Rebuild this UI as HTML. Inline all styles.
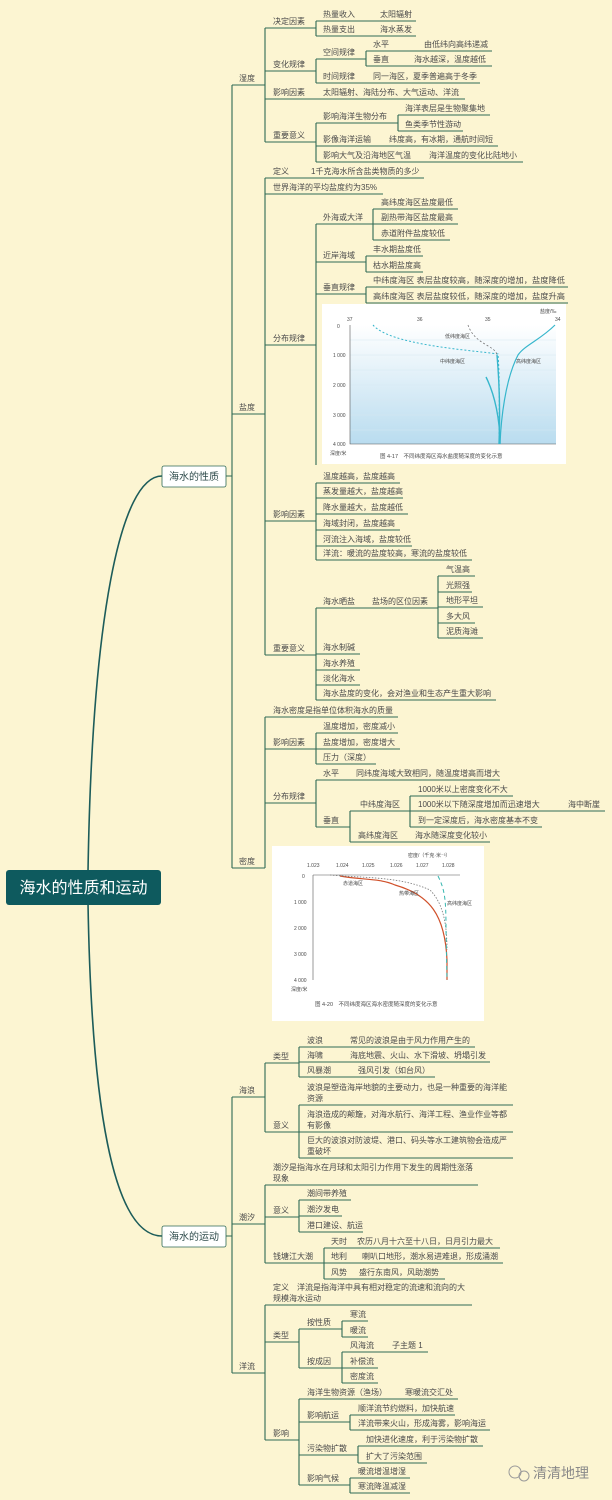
<!DOCTYPE html>
<html><head><meta charset="utf-8"><style>
html,body{margin:0;padding:0;background:#fcf5d2;}
svg{display:block;}
text{font-family:"Liberation Sans","Noto Sans CJK SC",sans-serif;font-size:8px;fill:#4a4a4a;}
</style></head><body>
<svg width="612" height="1500" viewBox="0 0 612 1500" xmlns="http://www.w3.org/2000/svg">
<rect width="612" height="1500" fill="#fcf5d2"/>
<defs><linearGradient id="g1" x1="0" y1="0" x2="0" y2="1"><stop offset="0" stop-color="#ffffff"/><stop offset="1" stop-color="#b9dcef"/></linearGradient></defs>

<path d="M88 872 C92 620 120 476 162 476" fill="none" stroke="#1c5c5a" stroke-width="1.6"/>
<path d="M88 903 C92 1140 120 1236 162 1236" fill="none" stroke="#1c5c5a" stroke-width="1.6"/>

<g fill="none" stroke="#2f6a55" stroke-width="1.1">
<path d="M226 476H232 M232 85V868 M226 1236H232 M232 1097V1373"/>
<path d="M232 85H265 M265 28V142 M265 28H316 M316 21V36 M316 21H416 M316 36H416
M265 71H316 M316 59V83 M316 59H366 M366 51V66 M366 51H492 M366 66H492 M316 83H480
M265 99H465 M265 142H316 M316 123V162 M316 123H398 M398 115V131 M398 115H490 M398 131H463 M316 146H498 M316 162H523"/>
<path d="M232 414H265 M265 178V655 M265 178H424 M265 194H383 M265 345H316 M316 224V465
M316 224H373 M373 209V240 M373 209H458 M373 224H458 M373 240H450
M316 262H366 M366 256V272 M366 256H423 M366 272H423
M316 294H366 M366 287V303 M366 287H568 M366 303H568
M265 521H316 M316 483V560 M316 483H400 M316 498H403 M316 514H408 M316 530H400 M316 546H412 M316 560H472
M265 655H316 M316 608V700 M316 608H438 M438 576V638 M438 576H475 M438 592H472 M438 607H483 M438 623H475 M438 638H483
M316 654H360 M316 670H360 M316 685H360 M316 700H496"/>
<path d="M232 868H265 M265 717V868 M265 717H398 M265 749H316 M316 733V764 M316 733H398 M316 749H400 M316 764H376
M265 803H316 M316 780V827 M316 780H500 M316 827H350 M350 811V842 M350 811H410 M410 796V827 M410 796H513 M410 811H605 M410 827H542 M350 842H490"/>
<path d="M232 1097H265 M265 1063V1132 M265 1063H299 M299 1047V1077 M299 1047H475 M299 1062H490 M299 1077H435
M265 1132H299 M299 1105V1158 M299 1105H513 M299 1132H513 M299 1158H513"/>
<path d="M232 1224H265 M265 1185V1263 M265 1185H478 M265 1217H299 M299 1200V1232 M299 1200H351 M299 1216H342 M299 1232H363
M265 1263H324 M324 1248V1279 M324 1248H500 M324 1263H503 M324 1279H445"/>
<path d="M232 1373H265 M265 1305V1440 M265 1305H472 M265 1342H299 M299 1329V1368 M299 1329H342 M342 1321V1337 M342 1321H368 M342 1337H368
M299 1368H342 M342 1352V1383 M342 1352H428 M342 1368H378 M342 1383H378
M265 1440H299 M299 1399V1485 M299 1399H458 M299 1422H350 M350 1415V1430 M350 1415H455 M350 1430H490
M299 1455H358 M358 1446V1463 M358 1446H483 M358 1463H427 M299 1485H350 M350 1478V1493 M350 1478H410 M350 1493H410"/>
</g>

<rect x="6" y="870" width="155" height="35" rx="3" fill="#0e5a5e"/>
<text x="83.5" y="893" text-anchor="middle" style="font-size:16px;fill:#fff">海水的性质和运动</text>
<rect x="162" y="466" width="64" height="21" rx="2" fill="#fff" stroke="#2f6a55" stroke-width="0.8"/>
<text x="194" y="480" text-anchor="middle" style="font-size:10px;fill:#2d4a4a">海水的性质</text>
<rect x="162" y="1226" width="64" height="21" rx="2" fill="#fff" stroke="#2f6a55" stroke-width="0.8"/>
<text x="194" y="1240" text-anchor="middle" style="font-size:10px;fill:#2d4a4a">海水的运动</text>

<text x="239" y="81">湿度</text>
<text x="273" y="24">决定因素</text>
<text x="323" y="17">热量收入</text><text x="380" y="17">太阳辐射</text>
<text x="323" y="32">热量支出</text><text x="380" y="32">海水蒸发</text>
<text x="273" y="67">变化规律</text>
<text x="323" y="55">空间规律</text>
<text x="373" y="47">水平</text><text x="424" y="47">由低纬向高纬递减</text>
<text x="373" y="62">垂直</text><text x="414" y="62">海水越深，温度越低</text>
<text x="323" y="79">时间规律</text><text x="373" y="79">同一海区，夏季普遍高于冬季</text>
<text x="273" y="95">影响因素</text><text x="323" y="95">太阳辐射、海陆分布、大气运动、洋流</text>
<text x="273" y="138">重要意义</text>
<text x="323" y="119">影响海洋生物分布</text>
<text x="405" y="111">海洋表层是生物聚集地</text>
<text x="405" y="127">鱼类季节性游动</text>
<text x="323" y="142">影像海洋运输</text><text x="389" y="142">纬度高，有冰期，通航时间短</text>
<text x="323" y="158">影响大气及沿海地区气温</text><text x="429" y="158">海洋温度的变化比陆地小</text>

<text x="239" y="410">盐度</text>
<text x="273" y="174">定义</text><text x="311" y="174">1千克海水所含盐类物质的多少</text>
<text x="273" y="190">世界海洋的平均盐度约为35%</text>
<text x="273" y="341">分布规律</text>
<text x="323" y="220">外海或大洋</text>
<text x="381" y="205">高纬度海区盐度最低</text>
<text x="381" y="220">副热带海区盐度最高</text>
<text x="381" y="236">赤道附件盐度较低</text>
<text x="323" y="258">近岸海域</text>
<text x="373" y="252">丰水期盐度低</text>
<text x="373" y="268">枯水期盐度高</text>
<text x="323" y="290">垂直规律</text>
<text x="373" y="283" textLength="192" lengthAdjust="spacingAndGlyphs">中纬度海区  表层盐度较高，随深度的增加，盐度降低</text>
<text x="373" y="299" textLength="192" lengthAdjust="spacingAndGlyphs">高纬度海区  表层盐度较低，随深度的增加，盐度升高</text>

<rect x="322" y="304" width="244" height="160" fill="#fff"/>
<rect x="350" y="325" width="206" height="119" fill="url(#g1)"/>
<g stroke="#d6e8f2" stroke-width="0.6">
<path d="M350 340H556 M350 355H556 M350 370H556 M350 385H556 M350 400H556 M350 415H556 M350 430H556"/>
</g>
<path d="M350 325V444H556" fill="none" stroke="#555" stroke-width="0.6"/>
<path d="M373 325 C390 345 470 350 498 354 C500 380 499 420 499 444" fill="none" stroke="#36b6cc" stroke-width="1" stroke-dasharray="2,2"/>
<path d="M468 325 C475 345 495 345 497 355" fill="none" stroke="#777" stroke-width="0.8" stroke-dasharray="2,2"/>
<path d="M497 355 C500 390 500 420 499 444" fill="none" stroke="#36b6cc" stroke-width="1.4"/>
<path d="M486 377 C495 395 500 420 500 444" fill="none" stroke="#36b6cc" stroke-width="1.4"/>
<path d="M555 325 C540 340 525 345 518 355 C505 380 501 420 500 444" fill="none" stroke="#36b6cc" stroke-width="1.2"/>
<g><text x="347" y="321" style="font-size:5px">37</text><text x="417" y="321" style="font-size:5px">36</text><text x="485" y="321" style="font-size:5px">35</text><text x="555" y="321" style="font-size:5px">34</text>
<text x="540" y="313" style="font-size:5px">盐度/‰</text>
<text x="337" y="328" style="font-size:5px">0</text><text x="333" y="357" style="font-size:5px">1 000</text><text x="333" y="387" style="font-size:5px">2 000</text><text x="333" y="417" style="font-size:5px">3 000</text><text x="333" y="446" style="font-size:5px">4 000</text>
<text x="445" y="338" style="font-size:5px">低纬度海区</text><text x="440" y="363" style="font-size:5px">中纬度海区</text><text x="516" y="363" style="font-size:5px">高纬度海区</text>
<text x="330" y="455" style="font-size:5px">深度/米</text>
<text x="380" y="458" style="font-size:5.5px">图 4-17　不同纬度海区海水盐度随深度的变化示意</text></g>

<text x="273" y="517">影响因素</text>
<text x="323" y="479">温度越高，盐度越高</text>
<text x="323" y="494">蒸发量越大，盐度越高</text>
<text x="323" y="510">降水量越大，盐度越低</text>
<text x="323" y="526">海域封闭，盐度越高</text>
<text x="323" y="542">河流注入海域，盐度较低</text>
<text x="323" y="556">洋流：暖流的盐度较高，寒流的盐度较低</text>
<text x="273" y="651">重要意义</text>
<text x="323" y="604">海水晒盐</text><text x="372" y="604">盐场的区位因素</text>
<text x="446" y="572">气温高</text><text x="446" y="588">光照强</text><text x="446" y="603">地形平坦</text><text x="446" y="619">多大风</text><text x="446" y="634">泥质海滩</text>
<text x="323" y="650">海水制碱</text><text x="323" y="666">海水养殖</text><text x="323" y="681">淡化海水</text>
<text x="323" y="696">海水盐度的变化，会对渔业和生态产生重大影响</text>

<text x="239" y="864">密度</text>
<text x="273" y="713">海水密度是指单位体积海水的质量</text>
<text x="273" y="745">影响因素</text>
<text x="323" y="729">温度增加，密度减小</text><text x="323" y="745">盐度增加，密度增大</text><text x="323" y="760">压力（深度）</text>
<text x="273" y="799">分布规律</text>
<text x="323" y="776">水平</text><text x="356" y="776">同纬度海域大致相同，随温度增高而增大</text>
<text x="323" y="823">垂直</text>
<text x="360" y="807">中纬度海区</text>
<text x="418" y="792">1000米以上密度变化不大</text>
<text x="418" y="807">1000米以下随深度增加而迅速增大</text><text x="568" y="807">海中断崖</text>
<text x="418" y="823">到一定深度后，海水密度基本不变</text>
<text x="358" y="838">高纬度海区</text><text x="415" y="838">海水随深度变化较小</text>

<rect x="272" y="846" width="212" height="175" fill="#fff"/>
<path d="M313 875V980 M313 875H460" fill="none" stroke="#555" stroke-width="0.6"/>
<path d="M340 876 C360 880 380 878 395 885 C430 895 445 915 447 960 L447 980" fill="none" stroke="#d0502a" stroke-width="1.2"/>
<path d="M330 875 C360 878 400 876 430 890 C445 905 447 930 447 950" fill="none" stroke="#777" stroke-width="0.8" stroke-dasharray="1.5,1.5"/>
<path d="M438 876 C445 890 446 900 446 930 L447 980" fill="none" stroke="#36b6b0" stroke-width="1" stroke-dasharray="4,3"/>
<g><text x="307" y="867" style="font-size:5px">1.023</text><text x="336" y="867" style="font-size:5px">1.024</text><text x="362" y="867" style="font-size:5px">1.025</text><text x="390" y="867" style="font-size:5px">1.026</text><text x="416" y="867" style="font-size:5px">1.027</text><text x="442" y="867" style="font-size:5px">1.028</text>
<text x="408" y="857" style="font-size:5px">密度/（千克·米⁻³）</text>
<text x="302" y="878" style="font-size:5px">0</text><text x="294" y="904" style="font-size:5px">1 000</text><text x="294" y="930" style="font-size:5px">2 000</text><text x="294" y="956" style="font-size:5px">3 000</text><text x="294" y="982" style="font-size:5px">4 000</text>
<text x="343" y="885" style="font-size:5px">赤道海区</text><text x="399" y="895" style="font-size:5px">热带海区</text><text x="447" y="905" style="font-size:5px">高纬度海区</text>
<text x="291" y="991" style="font-size:5px">深度/米</text>
<text x="315" y="1006" style="font-size:5.5px">图 4-20　不同纬度海区海水密度随深度的变化示意</text></g>

<text x="239" y="1093">海浪</text>
<text x="273" y="1059">类型</text>
<text x="307" y="1043">波浪</text><text x="350" y="1043">常见的波浪是由于风力作用产生的</text>
<text x="307" y="1058">海啸</text><text x="350" y="1058">海底地震、火山、水下滑坡、坍塌引发</text>
<text x="307" y="1073">风暴潮</text><text x="358" y="1073">强风引发（如台风）</text>
<text x="273" y="1128">意义</text>
<text x="307" y="1090">波浪是塑造海岸地貌的主要动力，也是一种重要的海洋能</text><text x="307" y="1101">资源</text>
<text x="307" y="1117">海浪造成的颠簸，对海水航行、海洋工程、渔业作业等都</text><text x="307" y="1128">有影像</text>
<text x="307" y="1143">巨大的波浪对防波堤、港口、码头等水工建筑物会造成严</text><text x="307" y="1154">重破坏</text>

<text x="239" y="1220">潮汐</text>
<text x="273" y="1170">潮汐是指海水在月球和太阳引力作用下发生的周期性涨落</text><text x="273" y="1181">现象</text>
<text x="273" y="1213">意义</text>
<text x="307" y="1196">潮间带养殖</text><text x="307" y="1212">潮汐发电</text><text x="307" y="1228">港口建设、航运</text>
<text x="273" y="1259">钱塘江大潮</text>
<text x="331" y="1244">天时</text><text x="357" y="1244">农历八月十六至十八日，日月引力最大</text>
<text x="331" y="1259">地利</text><text x="362" y="1259">喇叭口地形，潮水易进难退，形成涌潮</text>
<text x="331" y="1275">风势</text><text x="359" y="1275">盛行东南风，风助潮势</text>

<text x="239" y="1369">洋流</text>
<text x="273" y="1290">定义　洋流是指海洋中具有相对稳定的流速和流向的大</text><text x="273" y="1301">规模海水运动</text>
<text x="273" y="1338">类型</text>
<text x="307" y="1325">按性质</text><text x="350" y="1317">寒流</text><text x="350" y="1333">暖流</text>
<text x="307" y="1364">按成因</text><text x="350" y="1348">风海流</text><text x="392" y="1348">子主题 1</text>
<text x="350" y="1364">补偿流</text><text x="350" y="1379">密度流</text>
<text x="273" y="1436">影响</text>
<text x="307" y="1395">海洋生物资源（渔场）</text><text x="405" y="1395">寒暖流交汇处</text>
<text x="307" y="1418">影响航运</text>
<text x="358" y="1411">顺洋流节约燃料，加快航速</text>
<text x="358" y="1426">洋流带来火山，形成海雾，影响海运</text>
<text x="307" y="1451">污染物扩散</text>
<text x="366" y="1442">加快进化速度，利于污染物扩散</text>
<text x="366" y="1459">扩大了污染范围</text>
<text x="307" y="1481">影响气候</text>
<text x="358" y="1474">暖流增温增湿</text>
<text x="358" y="1489">寒流降温减湿</text>

<circle cx="515" cy="1472" r="6" fill="none" stroke="#9a9a9a" stroke-width="1"/>
<circle cx="524" cy="1476" r="5" fill="none" stroke="#9a9a9a" stroke-width="1"/>
<text x="533" y="1478" style="font-size:14px;fill:#8a8a8a">清清地理</text>
</svg>
</body></html>
